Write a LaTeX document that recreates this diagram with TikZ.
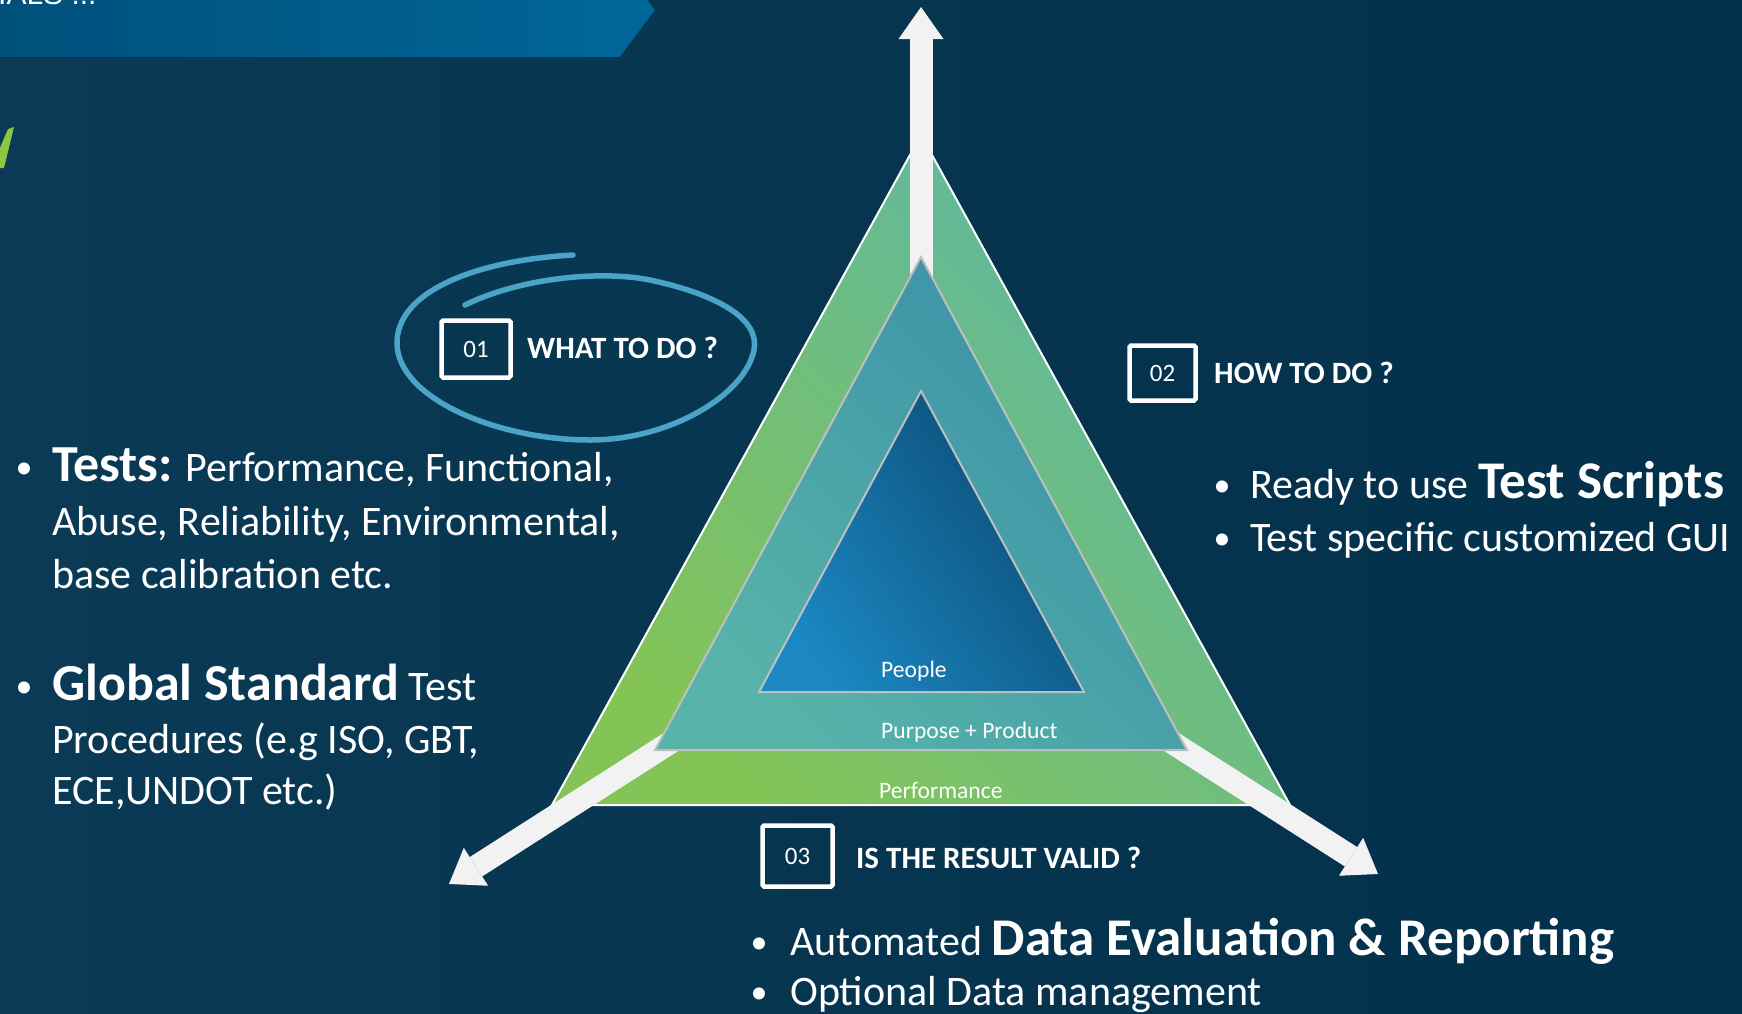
\documentclass[tikz,border=0pt]{standalone}
\usepackage{fontspec}
\setmainfont{Carlito}
\newfontfamily\bannerfont{Liberation Sans}
\usetikzlibrary{arrows.meta,calc}
\definecolor{bgL}{HTML}{0A3A55}
\definecolor{bgR}{HTML}{03304A}
\definecolor{banL}{HTML}{00507A}
\definecolor{banR}{HTML}{00679A}
\definecolor{ringblue}{HTML}{4BA3C8}
\definecolor{arrowwhite}{HTML}{F2F2F2}
\definecolor{outerA}{HTML}{84C456}
\definecolor{outerB}{HTML}{5CB7A6}
\definecolor{midA}{HTML}{58B4A9}
\definecolor{midB}{HTML}{3990A7}
\definecolor{innA}{HTML}{1B88C3}
\definecolor{innB}{HTML}{0B4A72}
\definecolor{edgegrey}{HTML}{BFBFBF}
\definecolor{checkgreen}{HTML}{8DC63F}
\begin{document}
\begin{tikzpicture}[x=1pt,y=-1pt,
  bigarrow/.style={draw=arrowwhite, line width=23pt, -{Triangle[width=45pt,length=32pt,line width=0pt,fill=arrowwhite]}},
  numbox/.style={draw=white, line width=4.5pt, rounded corners=1.5pt, text=white, font=\fontsize{25}{30}\selectfont, inner sep=0pt},
  headtxt/.style={text=white, font=\fontsize{31}{36}\selectfont\bfseries, anchor=base west, inner sep=0pt},
  bodytxt/.style={text=white, font=\fontsize{42}{50}\selectfont, anchor=base west, inner sep=0pt},
  bultxt/.style={text=white, font=\fontsize{34}{40}\selectfont, anchor=base, inner sep=0pt},
  layertxt/.style={text=white, font=\fontsize{23.6}{28}\selectfont, anchor=base west, inner sep=0pt},
  greyedge/.style={draw=edgegrey, line width=2pt, line join=miter}
]
\useasboundingbox (0,0) rectangle (1742,1013);
% background
\fill[left color=bgL, right color=bgR] (0,0) rectangle (1742,1013);
% banner
\fill[left color=banL, right color=banR] (-5,-5) -- (644,-5) -- (655,10) -- (620,57) -- (-5,57) -- cycle;
\node[text=white, font=\bannerfont\fontsize{30}{36}\selectfont, anchor=base west, inner sep=0pt] (bannertxt) at (-2,4) {IALS ...};
% green mark
\fill[checkgreen] (8,129) -- (14,127) -- (4,168) -- (-1,168) -- (-1,150) -- cycle;
% hand-drawn ring
\draw[ringblue, line width=5.5pt, line cap=round]
  (465,305) .. controls (520,278) and (600,270) .. (650,280)
  .. controls (720,295) and (760,320) .. (754,350)
  .. controls (745,395) and (670,440) .. (590,440)
  .. controls (500,440) and (400,400) .. (397,345)
  .. controls (395,290) and (480,260) .. (573,255);
% number boxes and headings
\node[numbox, minimum width=69pt, minimum height=57pt] (box1) at (476,349) {01};
\node[headtxt] (head1) at (527,358) {WHAT TO DO ?};
\node[numbox, minimum width=66pt, minimum height=55pt] (box2) at (1162.5,373) {02};
\node[headtxt] (head2) at (1214,383) {HOW TO DO ?};
\node[numbox, minimum width=70pt, minimum height=61pt] (box3) at (797.5,856) {03};
\node[headtxt] (head3) at (856,868) {IS THE RESULT VALID ?};
% left text
\node[bultxt] (lb1) at (24,478) {•};
\node[bodytxt] (l1) at (52,481) {{\fontsize{52}{60}\selectfont\bfseries Tests:} Performance, Functional,};
\node[bodytxt] (l2) at (52,535) {Abuse, Reliability, Environmental,};
\node[bodytxt] (l3) at (52,588) {base calibration etc.};
\node[bultxt] (lb2) at (24,697) {•};
\node[bodytxt] (l4) at (52,700) {{\fontsize{52}{60}\selectfont\bfseries Global Standard} Test};
\node[bodytxt] (l5) at (52,753) {Procedures (e.g ISO, GBT,};
\node[bodytxt] (l6) at (52,804) {ECE,UNDOT etc.)};
% right text
\node[bultxt] (rb1) at (1222,496) {•};
\node[bodytxt] (r1) at (1250,498) {Ready to use {\fontsize{53}{60}\selectfont\bfseries Test Scripts}};
\node[bultxt] (rb2) at (1222,549) {•};
\node[bodytxt] (r2) at (1250,551) {Test specific customized GUI};
% bottom text
\node[bultxt] (db1) at (759,953) {•};
\node[bodytxt] (d1) at (790,955) {Automated {\fontsize{53}{60}\selectfont\bfseries Data Evaluation \& Reporting}};
\node[bultxt] (db2) at (759,1003) {•};
\node[bodytxt] (d2) at (790,1005) {Optional Data management};
% outer triangle
\draw[left color=outerA, right color=outerB, shading angle=135, draw=white, line width=2pt, line join=miter]
  (921,135) -- (552,805) -- (1290,805) -- cycle;
% arrows
\coordinate (ctr) at (921,582);
\coordinate (tipU) at (921,7);
\coordinate (tipL) at (449,884);
\coordinate (tipR) at (1378,874);
\draw[bigarrow] (ctr) -- (tipU);
\draw[bigarrow] (ctr) -- (tipL);
\draw[bigarrow] (ctr) -- (tipR);
% middle triangle
\draw[left color=midA, right color=midB, shading angle=135, greyedge]
  (921,257) -- (655,750) -- (1187,750) -- cycle;
% inner triangle
\draw[left color=innA, middle color=innA!80!innB, right color=innB, shading angle=125, greyedge]
  (921,391) -- (759,692) -- (1084,692) -- cycle;
% layer labels
\node[layertxt] (people) at (881,677) {People};
\node[layertxt] (purpose) at (881,738) {Purpose + Product};
\node[layertxt] (perf) at (879,798) {Performance};
\end{tikzpicture}
\end{document}
